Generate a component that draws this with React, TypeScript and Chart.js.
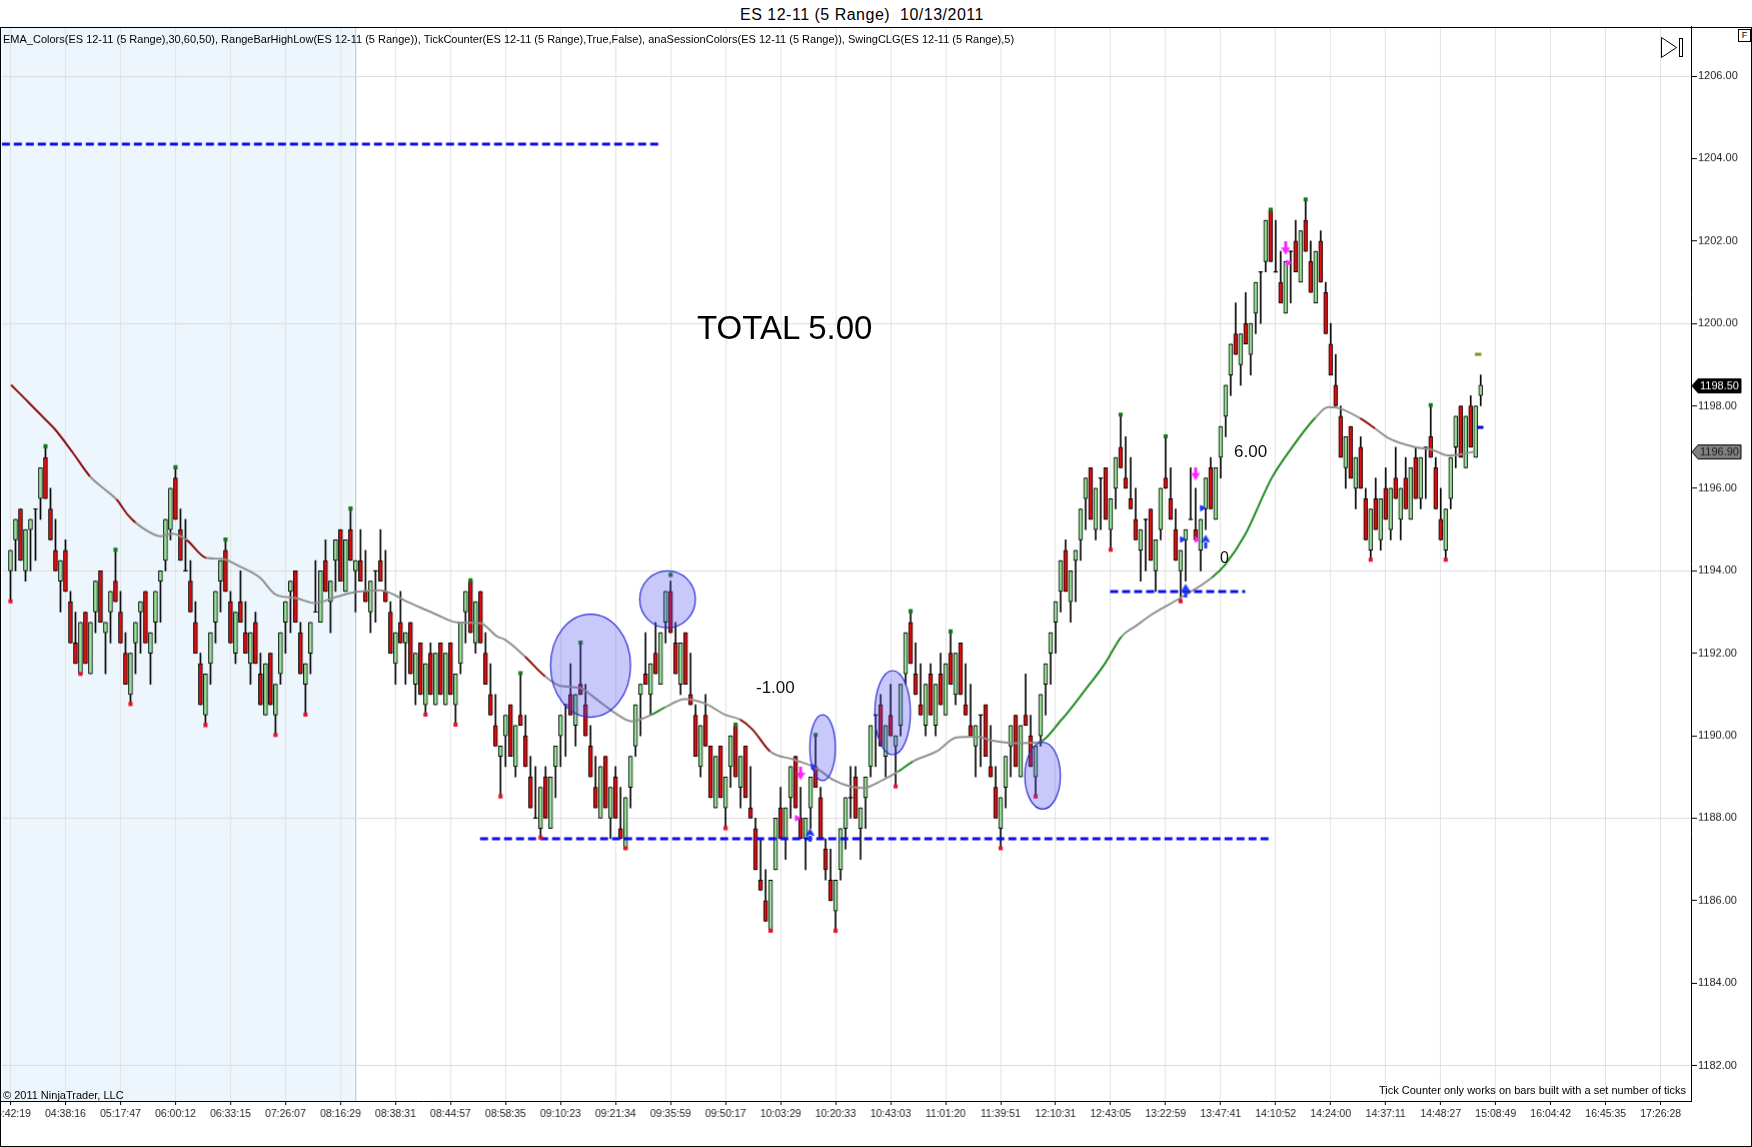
import React, { useEffect, useRef } from "react";
import { Chart, registerables } from "chart.js";

Chart.register(...registerables);

// ---------------- data ----------------
const barOpen = [
  1194.0,1194.75,1195.5,1194.0,1195.0,1195.5,1195.75,1196.75,1195.5,1194.5,
  1193.75,1194.5,1193.25,1192.25,1191.5,1193.0,1191.5,1193.0,1194.0,1192.5,
  1193.0,1193.75,1193.0,1192.0,1191.0,1192.25,1193.0,1193.5,1192.0,1192.75,
  1193.75,1194.25,1195.0,1196.25,1195.0,1194.0,1193.75,1192.75,1191.75,1190.5,
  1191.75,1192.75,1193.75,1194.5,1193.25,1192.0,1193.25,1192.5,1191.75,1192.75,
  1191.5,1190.5,1192.0,1190.5,1191.5,1192.75,1193.5,1194.0,1192.5,1191.25,
  1192.0,1193.0,1192.75,1194.25,1193.25,1194.25,1195.0,1193.5,1195.0,1194.0,
  1194.25,1193.5,1193.0,1194.0,1194.25,1193.5,1193.0,1191.75,1192.75,1192.25,
  1192.75,1191.25,1192.25,1190.75,1192.0,1190.75,1192.25,1190.75,1192.25,1190.75,
  1191.75,1193.0,1193.75,1192.25,1193.5,1192.0,1191.0,1190.25,1189.5,1190.0,
  1190.75,1189.25,1190.5,1190.0,1189.0,1188.0,1187.75,1189.0,1187.75,1189.25,
  1190.0,1190.75,1191.0,1190.25,1191.25,1190.75,1189.75,1188.75,1188.0,1189.5,
  1188.0,1189.0,1187.75,1187.25,1188.75,1189.75,1191.0,1191.5,1191.0,1192.0,
  1191.25,1192.75,1193.5,1192.25,1191.25,1192.5,1191.0,1190.5,1189.25,1190.5,
  1189.75,1188.25,1189.75,1188.25,1189.25,1190.25,1188.75,1189.75,1188.25,1187.75,
  1186.5,1186.0,1185.25,1186.75,1188.25,1187.5,1188.5,1189.5,1188.0,1187.5,
  1188.25,1189.25,1188.5,1187.25,1186.5,1185.75,1186.75,1187.75,1188.5,1189.0,
  1187.75,1188.5,1189.25,1190.5,1190.75,1189.5,1190.5,1189.75,1190.25,1191.5,
  1192.75,1191.5,1190.75,1190.25,1191.5,1190.25,1191.5,1190.5,1192.0,1191.0,
  1192.25,1190.75,1190.25,1189.75,1190.5,1190.75,1189.25,1188.75,1187.75,1188.75,
  1189.75,1190.5,1189.0,1190.5,1190.0,1189.0,1190.0,1191.25,1192.0,1192.75,
  1193.5,1194.5,1193.25,1194.25,1194.75,1195.75,1196.5,1195.0,1196.25,1196.5,
  1195.0,1196.0,1197.0,1196.25,1195.75,1195.25,1194.5,1195.25,1195.5,1194.0,
  1195.0,1196.25,1195.75,1195.0,1194.0,1194.75,1195.25,1195.0,1194.5,1195.5,
  1196.5,1195.25,1196.75,1197.75,1198.75,1199.75,1199.0,1200.0,1199.25,1200.25,
  1201.25,1201.5,1202.75,1201.25,1201.0,1200.25,1201.75,1202.0,1201.0,1202.5,
  1201.5,1200.5,1202.0,1200.75,1199.5,1198.5,1197.75,1196.5,1197.5,1196.0,
  1197.0,1195.75,1194.5,1195.75,1194.75,1196.0,1195.0,1196.25,1195.25,1196.25,
  1195.25,1196.75,1195.75,1197.0,1197.25,1196.5,1195.25,1194.5,1195.75,1197.0,
  1198.0,1196.5,1198.0,1196.75,1198.25
];
const barHigh = [
  1194.5,1195.25,1195.5,1195.0,1195.25,1195.5,1196.5,1197.0,1196.0,1195.25,
  1194.25,1194.75,1193.5,1193.0,1192.75,1193.0,1192.75,1193.75,1194.0,1192.75,
  1193.5,1194.5,1193.5,1192.5,1192.0,1192.75,1193.25,1193.5,1192.5,1193.5,
  1194.0,1195.25,1196.0,1196.5,1195.5,1195.25,1194.25,1193.25,1192.0,1191.5,
  1192.5,1193.5,1194.25,1194.75,1193.5,1193.0,1194.0,1193.25,1192.5,1193.0,
  1192.0,1191.75,1192.0,1191.25,1192.5,1193.25,1193.75,1194.0,1192.75,1191.75,
  1192.75,1194.25,1194.0,1194.75,1193.75,1194.75,1195.0,1194.75,1195.5,1194.25,
  1195.0,1194.5,1193.75,1194.0,1195.0,1194.5,1193.25,1192.5,1193.5,1192.5,
  1192.75,1192.0,1192.25,1191.75,1192.25,1192.0,1192.25,1192.0,1192.25,1191.5,
  1192.75,1193.5,1193.75,1193.25,1193.5,1192.5,1191.75,1191.0,1189.75,1190.5,
  1190.75,1190.25,1191.5,1190.5,1189.5,1189.25,1188.75,1189.25,1189.0,1189.75,
  1190.5,1190.75,1191.75,1191.0,1192.25,1191.25,1190.25,1189.5,1189.25,1189.5,
  1188.75,1189.25,1188.75,1188.5,1189.5,1190.75,1191.25,1192.5,1191.75,1192.75,
  1192.5,1193.5,1193.75,1192.75,1192.25,1192.5,1192.0,1190.75,1190.25,1191.0,
  1189.75,1189.5,1189.75,1189.0,1190.0,1190.25,1189.5,1189.75,1189.25,1188.0,
  1187.5,1186.75,1186.5,1188.0,1188.75,1188.25,1189.25,1189.5,1188.75,1188.0,
  1189.0,1190.0,1188.75,1187.5,1187.25,1186.5,1187.75,1188.5,1189.25,1189.25,
  1188.25,1189.0,1190.25,1190.5,1191.0,1190.25,1191.25,1190.0,1191.25,1192.5,
  1193.0,1192.25,1191.75,1191.25,1191.75,1191.25,1192.0,1191.75,1192.5,1192.0,
  1192.25,1191.75,1191.25,1190.25,1190.5,1190.75,1190.25,1189.25,1188.5,1189.5,
  1190.25,1190.5,1190.25,1191.5,1190.5,1189.75,1191.0,1191.75,1192.5,1193.25,
  1194.25,1194.75,1194.0,1194.5,1195.5,1196.25,1196.5,1196.0,1196.25,1196.5,
  1195.75,1196.75,1197.75,1197.25,1196.75,1196.0,1195.0,1195.25,1195.5,1194.75,
  1196.0,1197.25,1196.5,1195.5,1194.5,1195.0,1196.5,1196.0,1195.25,1196.25,
  1196.75,1196.5,1197.5,1198.5,1199.5,1200.5,1199.75,1200.75,1200.0,1201.0,
  1201.25,1202.5,1202.75,1202.5,1201.75,1201.5,1201.75,1202.5,1202.25,1203.0,
  1202.0,1201.75,1202.25,1201.0,1200.0,1199.25,1198.0,1197.25,1197.5,1196.75,
  1197.25,1196.0,1195.5,1196.25,1195.75,1196.5,1196.0,1197.0,1196.0,1196.75,
  1196.5,1197.0,1196.75,1197.0,1198.0,1196.75,1196.0,1195.5,1196.75,1197.75,
  1198.0,1197.75,1198.25,1198.0,1198.75
];
const barLow = [
  1193.25,1194.0,1194.25,1193.75,1194.0,1194.25,1195.25,1195.75,1194.75,1194.0,
  1193.0,1193.5,1192.25,1191.75,1191.5,1191.75,1191.5,1192.5,1192.75,1191.5,
  1192.25,1193.25,1192.25,1191.25,1190.75,1191.5,1192.0,1192.25,1191.25,1192.25,
  1192.75,1194.0,1194.75,1195.25,1194.25,1194.0,1193.0,1192.0,1190.75,1190.25,
  1191.25,1192.25,1193.0,1193.5,1192.25,1191.75,1192.75,1192.0,1191.25,1191.75,
  1190.75,1190.5,1190.75,1190.0,1191.25,1192.0,1192.5,1192.75,1191.5,1190.5,
  1191.5,1193.0,1192.75,1193.5,1192.5,1193.5,1193.75,1193.5,1194.25,1193.0,
  1193.75,1193.25,1192.5,1192.75,1193.75,1193.25,1192.0,1191.25,1192.25,1191.25,
  1191.5,1190.75,1191.0,1190.5,1191.0,1190.75,1191.0,1190.75,1191.0,1190.25,
  1191.5,1192.25,1192.5,1192.0,1192.25,1191.25,1190.5,1189.75,1188.5,1189.25,
  1189.5,1189.0,1190.25,1189.25,1188.25,1188.0,1187.5,1188.0,1187.75,1188.5,
  1189.25,1189.5,1190.5,1189.75,1191.0,1190.0,1189.0,1188.25,1188.0,1188.25,
  1187.5,1188.0,1187.5,1187.25,1188.25,1189.5,1190.0,1191.25,1190.5,1191.5,
  1191.25,1192.25,1192.5,1191.5,1191.0,1191.25,1190.75,1189.5,1189.0,1189.75,
  1188.5,1188.25,1188.5,1187.75,1188.75,1189.0,1188.25,1188.5,1188.0,1186.75,
  1186.25,1185.5,1185.25,1186.75,1187.5,1187.0,1188.0,1188.25,1187.5,1186.75,
  1187.75,1188.75,1187.5,1186.5,1186.0,1185.25,1186.5,1187.25,1188.0,1188.0,
  1187.0,1187.75,1189.0,1189.25,1189.75,1189.0,1190.0,1188.75,1190.0,1191.25,
  1191.75,1191.0,1190.5,1190.0,1190.5,1190.0,1190.75,1190.5,1191.25,1190.75,
  1191.0,1190.5,1190.0,1189.0,1189.25,1189.5,1189.0,1188.0,1187.25,1188.25,
  1189.0,1189.25,1189.0,1190.25,1189.25,1188.5,1189.75,1190.5,1191.25,1192.0,
  1193.0,1193.5,1192.75,1193.25,1194.25,1195.0,1195.25,1194.75,1195.0,1195.25,
  1194.5,1195.5,1196.5,1196.0,1195.5,1194.75,1193.75,1194.0,1194.25,1193.5,
  1194.75,1196.0,1195.25,1194.25,1193.25,1193.75,1195.25,1194.75,1194.0,1195.0,
  1195.5,1195.25,1196.25,1197.25,1198.25,1199.25,1198.5,1199.5,1198.75,1199.75,
  1200.0,1201.25,1201.5,1201.25,1200.5,1200.25,1200.5,1201.25,1201.0,1201.75,
  1200.75,1200.5,1201.0,1199.75,1198.75,1198.0,1196.75,1196.0,1196.25,1195.5,
  1196.0,1194.75,1194.25,1195.0,1194.5,1195.25,1194.75,1195.75,1194.75,1195.5,
  1195.25,1195.75,1195.5,1195.75,1196.75,1195.5,1194.75,1194.25,1195.5,1196.5,
  1196.75,1196.5,1197.0,1196.75,1198.0
];
const barClose = [
  1194.5,1195.25,1194.25,1195.0,1195.25,1195.5,1196.5,1195.75,1194.75,1194.0,
  1194.25,1193.5,1192.25,1191.75,1192.75,1191.75,1192.75,1193.75,1192.75,1192.75,
  1193.5,1193.25,1192.25,1191.25,1192.0,1192.75,1193.25,1192.25,1192.5,1193.5,
  1194.0,1195.25,1196.0,1195.25,1194.25,1194.0,1193.0,1192.0,1190.75,1191.5,
  1192.5,1193.5,1194.25,1193.5,1192.25,1193.0,1192.75,1192.0,1192.5,1191.75,
  1190.75,1191.75,1190.75,1191.25,1192.5,1193.25,1193.75,1192.75,1191.5,1191.75,
  1192.75,1193.0,1194.0,1193.5,1193.75,1194.75,1193.75,1194.75,1194.25,1194.25,
  1193.75,1193.25,1193.75,1194.0,1193.75,1193.25,1192.0,1192.5,1192.25,1192.5,
  1191.5,1192.0,1191.0,1191.75,1191.0,1192.0,1191.0,1192.0,1191.0,1191.5,
  1192.75,1193.5,1192.5,1193.25,1192.25,1191.25,1190.5,1189.75,1189.75,1190.5,
  1189.5,1190.25,1190.25,1189.25,1188.25,1188.0,1188.75,1188.0,1189.0,1189.75,
  1190.5,1190.75,1190.5,1191.0,1191.0,1190.0,1189.0,1188.25,1189.25,1188.25,
  1188.75,1188.0,1187.5,1188.5,1189.5,1190.75,1191.25,1191.25,1191.75,1191.5,
  1192.5,1193.5,1192.5,1191.5,1192.25,1191.25,1190.75,1189.5,1190.25,1189.75,
  1188.5,1189.5,1188.5,1189.0,1190.0,1189.0,1189.5,1188.5,1188.0,1186.75,
  1186.25,1185.5,1186.5,1188.0,1187.5,1188.25,1189.25,1188.25,1187.5,1188.0,
  1189.0,1188.75,1187.5,1186.75,1186.0,1186.5,1187.75,1188.5,1188.5,1188.0,
  1188.25,1189.0,1190.25,1190.5,1189.75,1190.25,1190.0,1190.0,1191.25,1192.5,
  1191.75,1191.0,1190.5,1191.25,1190.5,1191.25,1190.75,1191.75,1191.25,1192.0,
  1191.0,1190.5,1190.0,1190.25,1190.5,1189.5,1189.0,1188.0,1188.5,1189.5,
  1190.25,1189.25,1190.25,1190.25,1189.25,1189.75,1191.0,1191.75,1192.5,1193.25,
  1194.25,1193.5,1194.0,1194.5,1195.5,1196.25,1195.25,1196.0,1196.25,1195.25,
  1195.75,1196.75,1196.5,1196.0,1195.5,1194.75,1195.0,1195.25,1194.25,1194.75,
  1196.0,1196.0,1195.25,1194.25,1194.5,1195.0,1195.25,1194.75,1195.25,1196.25,
  1195.5,1196.5,1197.5,1198.5,1199.5,1199.25,1199.75,1199.5,1200.0,1201.0,
  1201.25,1202.5,1201.5,1201.25,1200.5,1201.5,1201.75,1201.25,1202.25,1201.75,
  1200.75,1201.75,1201.0,1199.75,1198.75,1198.0,1196.75,1197.25,1196.25,1196.75,
  1196.0,1194.75,1195.5,1195.0,1195.75,1195.25,1196.0,1195.75,1196.0,1195.5,
  1196.5,1195.75,1196.75,1197.0,1196.75,1195.5,1194.75,1195.5,1196.75,1197.75,
  1196.75,1197.75,1197.0,1198.0,1198.5
];

const timeLabels = [
  "03:42:19","04:38:16","05:17:47","06:00:12","06:33:15","07:26:07","08:16:29","08:38:31",
  "08:44:57","08:58:35","09:10:23","09:21:34","09:35:59","09:50:17","10:03:29","10:20:33",
  "10:43:03","11:01:20","11:39:51","12:10:31","12:43:05","13:22:59","13:47:41","14:10:52",
  "14:24:00","14:37:11","14:48:27","15:08:49","16:04:42","16:45:35","17:26:28"
];
const labelBars = [0,11,22,33,44,55,66,77,88,99,110,121,132,143,154,165,176,187,198,209,220,231,242,253,264,275,286,297,308,319,330];
const priceTicks = [1182,1184,1186,1188,1190,1192,1194,1196,1198,1200,1202,1204,1206];
const gridPrices = [1182,1188,1194,1200,1206];

const emaBars = [
  0.1,3.5,6.8,8.9,12.5,15.9,18.5,21.2,23.5,25.0,
  27.5,29.9,32.5,35.2,39.2,42.2,45.9,49.9,53.1,57.0,
  60.9,65.2,69.2,73.9,79.9,85.2,89.2,93.9,97.3,98.9,
  102.9,106.9,109.9,113.9,116.9,120.9,124.2,128.2,130.9,134.9,
  138.9,142.9,145.9,148.4,151.9,156.7,161.2,164.5,167.9,170.5,
  174.5,177.5,180.5,185.2,189.2,193.2,196.4,200.9,205.5,210.2,
  214.9,218.9,222.2,224.9,228.2,233.9,240.2,242.9,246.9,250.9,
  252.2,256.2,260.9,263.5,265.5,269.9,272.9,275.5,280.9,284.2,
  287.5,290.2,292.9
];
const emaValues = [
  1198.51,1198.1,1197.69,1197.43,1196.86,1196.29,1196.01,1195.73,1195.35,1195.17,
  1194.96,1194.84,1194.9,1194.75,1194.31,1194.29,1194.1,1193.83,1193.42,1193.34,
  1193.22,1193.37,1193.49,1193.53,1193.22,1192.94,1192.75,1192.73,1192.41,1192.33,
  1191.92,1191.44,1191.21,1191.16,1190.91,1190.55,1190.35,1190.51,1190.69,1190.89,
  1190.78,1190.51,1190.39,1190.15,1189.62,1189.42,1189.21,1188.93,1188.77,1188.73,
  1188.93,1189.13,1189.38,1189.62,1189.96,1189.98,1189.88,1189.82,1189.84,1190.39,
  1191.11,1191.76,1192.41,1192.65,1192.94,1193.34,1193.83,1194.15,1194.88,1195.93,
  1196.25,1196.98,1197.71,1197.97,1197.95,1197.7,1197.45,1197.22,1197.0,1196.94,
  1196.8,1196.83,1196.9
];
// trend of the EMA segment starting at each point: r = falling, n = flat, g = rising
const emaTrend = [
  "r","r","r","r","r","n","n","r","r","n",
  "n","n","n","r","n","n","n","n","n","n",
  "n","n","n","n","n","n","n","n","n","n",
  "r","n","n","n","n","n","n","g","n","n",
  "n","n","r","r","n","n","n","n","n","n",
  "n","g","n","n","n","n","n","n","g","g",
  "g","g","n","n","n","n","g","g","g","g",
  "g","g","n","n","n","r","n","n","n","n",
  "n","n","n"
];

const swingHighBars = [7,21,33,43,68,92,102,114,132,145,161,180,188,222,231,252,259,284];
const swingHighPrices = [1197.02,1194.51,1196.51,1194.76,1195.51,1193.77,1191.52,1192.26,1193.9,1190.27,1190.02,1193.02,1192.53,1197.79,1197.26,1202.76,1203.01,1198.02];
const swingLowBars = [0,14,24,39,53,59,83,89,98,106,123,143,152,165,177,198,205,220,234,272,287];
const swingLowPrices = [1193.26,1191.5,1190.77,1190.26,1190.02,1190.51,1190.51,1190.27,1188.53,1187.53,1187.27,1187.76,1185.27,1185.27,1188.77,1187.27,1188.53,1194.51,1193.26,1194.27,1194.27];

const levelStartBars = [-1.74, 93.9, 219.9];
const levelEndBars = [130, 251.9, 246.9];
const levelPrices = [1204.35, 1187.5, 1193.5];

const ellipseBars = [116, 131.4, 162.4, 176.4, 206.4];
const ellipsePrices = [1191.7, 1193.31, 1189.71, 1190.56, 1189.03];
const ellipseHalfBars = [8, 5.56, 2.56, 3.56, 3.56];
const ellipseHalfPoints = [1.25, 0.69, 0.8, 1.02, 0.81];

const sellArrowBars = [158, 237, 255];
const sellArrowPrices = [1189.08, 1196.35, 1201.82];
const sellMarkBars = [157.3, 237.2, 255.5];
const sellMarkPrices = [1188.0, 1194.76, 1201.47];
const buyArrowBars = [159.9, 235, 239];
const buyArrowPrices = [1187.6, 1193.53, 1194.72];
const buyMarkBars = [160.5, 234.3, 238.3];
const buyMarkPrices = [1189.25, 1194.76, 1195.52];
const tickHighBars = [293.5];
const tickHighPrices = [1199.25];
const tickLowBars = [293.9];
const tickLowPrices = [1197.48];

const sessionEndBar = 68.9;
const tagPrices = [1198.5, 1196.9];
const tagLabels = ["1198.50", "1196.90"];

const xMin = -1.74;
const xMax = 336.06;
const yMin = 1181.14;
const yMax = 1207.2;

// ---------------- styling / layout ----------------
const GREEN = "#96e396";
const RED = "#df0f0f";
const TREND_COLORS: Record<string, string> = { r: "#8b0b0b", n: "#8f8f8f", g: "#1f8a1f" };
const FONT = "'Liberation Sans', Arial, Helvetica, sans-serif";
const PAGE_W = 1752;
const AREA_LEFT = 2;
const AREA_TOP = 27;
const AREA_BOTTOM = 1101;
const Y_AXIS_W = 61;
const X_AXIS_H = 46;

const sessionPlugin = {
  id: "sessionShade",
  beforeDraw(chart: any) {
    const { ctx, chartArea, scales } = chart;
    const xe = scales.x.getPixelForValue(sessionEndBar);
    ctx.save();
    ctx.fillStyle = "#eef6fd";
    ctx.fillRect(chartArea.left, chartArea.top, xe - chartArea.left, chartArea.bottom - chartArea.top);
    ctx.strokeStyle = "#b3c3d6";
    ctx.lineWidth = 1;
    ctx.beginPath();
    ctx.moveTo(Math.round(xe) + 0.5, chartArea.top);
    ctx.lineTo(Math.round(xe) + 0.5, chartArea.bottom);
    ctx.stroke();
    ctx.restore();
  },
};

const ellipsePlugin = {
  id: "ellipses",
  afterDatasetsDraw(chart: any) {
    const { ctx, chartArea, scales } = chart;
    const { x, y } = scales;
    ctx.save();
    ctx.beginPath();
    ctx.rect(chartArea.left, chartArea.top, chartArea.right - chartArea.left, chartArea.bottom - chartArea.top);
    ctx.clip();
    for (let i = 0; i < ellipseBars.length; i++) {
      const cx = x.getPixelForValue(ellipseBars[i]);
      const cy = y.getPixelForValue(ellipsePrices[i]);
      const rx = x.getPixelForValue(ellipseBars[i] + ellipseHalfBars[i]) - cx;
      const ry = y.getPixelForValue(ellipsePrices[i] - ellipseHalfPoints[i]) - cy;
      ctx.beginPath();
      ctx.ellipse(cx, cy, Math.abs(rx), Math.abs(ry), 0, 0, Math.PI * 2);
      ctx.fillStyle = "rgba(72,72,240,0.3)";
      ctx.fill();
      ctx.strokeStyle = "#2b2bd6";
      ctx.lineWidth = 1.2;
      ctx.stroke();
    }
    ctx.restore();
  },
};

const tagPlugin = {
  id: "priceTags",
  afterDraw(chart: any) {
    const { ctx, chartArea, scales } = chart;
    const y = scales.y;
    ctx.save();
    for (let i = 0; i < tagPrices.length; i++) {
      const py = Math.round(y.getPixelForValue(tagPrices[i])) + 0.5;
      const x0 = chartArea.right + 1;
      ctx.beginPath();
      ctx.moveTo(x0, py);
      ctx.lineTo(x0 + 6, py - 7);
      ctx.lineTo(x0 + 49, py - 7);
      ctx.lineTo(x0 + 49, py + 7);
      ctx.lineTo(x0 + 6, py + 7);
      ctx.closePath();
      ctx.fillStyle = i === 0 ? "#000000" : "#808080";
      ctx.fill();
      ctx.strokeStyle = "#000";
      ctx.lineWidth = 1;
      ctx.stroke();
      ctx.fillStyle = i === 0 ? "#ffffff" : "#1a1a1a";
      ctx.font = `11px ${FONT}`;
      ctx.textBaseline = "middle";
      ctx.textAlign = "left";
      ctx.fillText(tagLabels[i], x0 + 8, py + 0.5);
    }
    ctx.restore();
  },
};

function makeArrow(color: string, down: boolean) {
  const c = document.createElement("canvas");
  c.width = 9;
  c.height = 14;
  const g = c.getContext("2d");
  if (g) {
    g.fillStyle = color;
    g.beginPath();
    if (down) {
      g.rect(3, 0, 3, 7);
      g.moveTo(0, 6);
      g.lineTo(9, 6);
      g.lineTo(4.5, 13.5);
    } else {
      g.rect(3, 7, 3, 7);
      g.moveTo(0, 8);
      g.lineTo(9, 8);
      g.lineTo(4.5, 0.5);
    }
    g.closePath();
    g.fill();
  }
  return c;
}

function pts(xs: number[], ys: number[]) {
  return xs.map((v, i) => ({ x: v, y: ys[i] }));
}

function buildConfig(): any {
  const wickData: any[] = [];
  const bodyData: any[] = [];
  const bodyColors: string[] = [];
  const dojiData: any[] = [];
  for (let j = 0; j < barOpen.length; j++) {
    wickData.push({ x: j, y: [barLow[j], barHigh[j]] });
    if (barOpen[j] === barClose[j]) {
      dojiData.push({ x: j, y: barClose[j] });
    } else {
      bodyData.push({ x: j, y: [barOpen[j], barClose[j]] });
      bodyColors.push(barClose[j] > barOpen[j] ? GREEN : RED);
    }
  }
  const levelSets = levelPrices.map((p, i) => ({
    type: "line",
    data: [
      { x: levelStartBars[i], y: p },
      { x: levelEndBars[i], y: p },
    ],
    borderColor: "#0a0af0",
    borderWidth: 3,
    borderDash: [8, 4],
    pointRadius: 0,
    order: 4,
  }));
  const marker = (data: any[], style: any, color: string, radius: number, rotation: number, order: number, extra: any = {}) => ({
    type: "scatter",
    data,
    pointStyle: style,
    pointRadius: radius,
    pointRotation: rotation,
    pointBackgroundColor: color,
    pointBorderColor: color,
    pointBorderWidth: 1,
    order,
    ...extra,
  });
  const sellArrow = makeArrow("#ff1fff", true);
  const buyArrow = makeArrow("#1535ff", false);

  return {
    type: "bar",
    data: {
      datasets: [
        { type: "bar", data: wickData, backgroundColor: "#000", borderWidth: 0, barThickness: 1, grouped: false, order: 10 },
        {
          type: "bar",
          data: bodyData,
          backgroundColor: bodyColors,
          borderColor: "#000",
          borderWidth: 1,
          borderSkipped: false,
          barThickness: 4,
          grouped: false,
          order: 9,
        },
        marker(dojiData, "line", "#000", 2.2, 0, 8, { pointBorderWidth: 1.2 }),
        {
          type: "line",
          data: pts(emaBars, emaValues),
          borderWidth: 2,
          borderColor: TREND_COLORS.n,
          pointRadius: 0,
          cubicInterpolationMode: "monotone",
          segment: { borderColor: (c: any) => TREND_COLORS[emaTrend[c.p0DataIndex]] || TREND_COLORS.n },
          order: 5,
        },
        ...levelSets,
        marker(pts(swingHighBars, swingHighPrices), "rect", "#12781a", 2.9, 0, 3, { pointBorderWidth: 0 }),
        marker(pts(swingLowBars, swingLowPrices), "rect", "#e8102c", 2.9, 0, 3, { pointBorderWidth: 0 }),
        marker(pts(sellArrowBars, sellArrowPrices), sellArrow, "#ff1fff", 5, 0, 2),
        marker(pts(sellMarkBars, sellMarkPrices), "triangle", "#ff1fff", 3.2, 90, 2),
        marker(pts(buyArrowBars, buyArrowPrices), buyArrow, "#1535ff", 5, 0, 2),
        marker(pts(buyMarkBars, buyMarkPrices), "triangle", "#1535ff", 3.2, 90, 2),
        marker(pts(tickHighBars, tickHighPrices), "line", "#8f8a1c", 3.2, 0, 2, { pointBorderWidth: 3 }),
        marker(pts(tickLowBars, tickLowPrices), "line", "#0000d8", 3.2, 0, 2, { pointBorderWidth: 3 }),
      ],
    },
    options: {
      responsive: false,
      maintainAspectRatio: false,
      animation: false,
      devicePixelRatio: 1,
      events: [],
      layout: { padding: { left: 0, right: 0, top: 0, bottom: 0 } },
      plugins: { legend: { display: false }, tooltip: { enabled: false }, title: { display: false } },
      scales: {
        x: {
          type: "linear",
          min: xMin,
          max: xMax,
          offset: false,
          afterBuildTicks: (s: any) => {
            s.ticks = labelBars.map((v) => ({ value: v }));
          },
          afterFit: (s: any) => {
            s.height = X_AXIS_H;
          },
          ticks: {
            autoSkip: false,
            maxRotation: 0,
            minRotation: 0,
            padding: 3,
            color: "#1c1c1c",
            font: { family: FONT, size: 10.5 },
            callback: (_v: any, i: number) => timeLabels[i],
          },
          grid: { offset: false, color: "#e2e2e2", tickColor: "#000", tickLength: 4, lineWidth: 1 },
          border: { display: true, color: "#000", width: 1 },
        },
        y: {
          type: "linear",
          position: "right",
          min: yMin,
          max: yMax,
          beginAtZero: false,
          afterBuildTicks: (s: any) => {
            s.ticks = priceTicks.map((v) => ({ value: v }));
          },
          afterFit: (s: any) => {
            s.width = Y_AXIS_W;
          },
          ticks: {
            padding: 1,
            color: "#1c1c1c",
            font: { family: FONT, size: 11 },
            callback: (v: any) => Number(v).toFixed(2),
          },
          grid: {
            color: (c: any) => (c.tick && gridPrices.includes(c.tick.value) ? "#dcdcdc" : "rgba(0,0,0,0)"),
            tickColor: "#000",
            tickLength: 6,
          },
          border: { display: true, color: "#000", width: 1 },
        },
      },
    },
    plugins: [sessionPlugin, ellipsePlugin, tagPlugin],
  };
}

export default function App() {
  const ref = useRef<HTMLCanvasElement>(null);
  const wrapRef = useRef<HTMLDivElement>(null);

  useEffect(() => {
    const canvas = ref.current;
    const wrap = wrapRef.current;
    if (!canvas || !wrap) return;
    const baseH = 1120;
    canvas.width = PAGE_W;
    canvas.height = baseH;
    // first pass: measure the paddings chart.js adds around the plot area
    const probe = new Chart(canvas, buildConfig());
    const a = probe.chartArea;
    const padL = a.left;
    const padT = a.top;
    const padB = baseH - a.bottom;
    probe.destroy();
    const left = AREA_LEFT - padL;
    const top = AREA_TOP - padT;
    const w = PAGE_W - left;
    const h = AREA_BOTTOM - top + padB;
    wrap.style.left = `${left}px`;
    wrap.style.top = `${top}px`;
    wrap.style.width = `${w}px`;
    wrap.style.height = `${h}px`;
    canvas.width = w;
    canvas.height = h;
    canvas.style.width = `${w}px`;
    canvas.style.height = `${h}px`;
    const chart = new Chart(canvas, buildConfig());
    return () => chart.destroy();
  }, []);

  const txt = (left: number, top: number, size: number, s: string, extra: any = {}) => (
    <div
      style={{
        position: "absolute",
        left,
        top,
        fontSize: size,
        lineHeight: `${size}px`,
        whiteSpace: "nowrap",
        color: "#111",
        ...extra,
      }}
    >
      {s}
    </div>
  );

  return (
    <div
      style={{
        position: "fixed",
        left: 0,
        top: 0,
        width: PAGE_W,
        height: 1147,
        background: "#fff",
        overflow: "hidden",
        fontFamily: FONT,
      }}
    >
      {txt(740, 7, 16, "ES 12-11 (5 Range)  10/13/2011", { letterSpacing: "0.5px", whiteSpace: "pre", color: "#000" })}
      <div ref={wrapRef} style={{ position: "absolute", left: 0, top: 27, width: PAGE_W, height: 1120 }}>
        <canvas ref={ref} style={{ display: "block" }} />
      </div>
      <div
        style={{
          position: "absolute",
          left: 0,
          top: 27,
          width: PAGE_W,
          height: 1120,
          border: "1px solid #000",
          boxSizing: "border-box",
          pointerEvents: "none",
        }}
      />
      {txt(3, 34, 11, "EMA_Colors(ES 12-11 (5 Range),30,60,50), RangeBarHighLow(ES 12-11 (5 Range)), TickCounter(ES 12-11 (5 Range),True,False), anaSessionColors(ES 12-11 (5 Range)), SwingCLG(ES 12-11 (5 Range),5)", { color: "#000" })}
      {txt(3, 1090, 11, "© 2011 NinjaTrader, LLC", { color: "#000" })}
      <div
        style={{
          position: "absolute",
          right: 66,
          top: 1085,
          fontSize: 11,
          lineHeight: "11px",
          whiteSpace: "nowrap",
          color: "#000",
        }}
      >
        Tick Counter only works on bars built with a set number of ticks
      </div>
      {txt(697, 311, 33, "TOTAL 5.00", { color: "#000" })}
      {txt(756, 679, 17, "-1.00", { color: "#111" })}
      {txt(1234, 443, 17, "6.00", { color: "#111" })}
      {txt(1220, 550, 16, "0", { color: "#111" })}
      <svg style={{ position: "absolute", left: 1658, top: 34 }} width={28} height={27}>
        <polygon points="3.5,3.5 18.5,13.5 3.5,23.5" fill="none" stroke="#000" strokeWidth={1} />
        <rect x={21.5} y={4.5} width={3} height={18} fill="none" stroke="#000" strokeWidth={1} />
      </svg>
      <div
        style={{
          position: "absolute",
          left: 1738,
          top: 29,
          width: 11,
          height: 11,
          border: "1px solid #000",
          fontSize: 9,
          lineHeight: "11px",
          textAlign: "center",
          background: "#fff",
        }}
      >
        F
      </div>
    </div>
  );
}
